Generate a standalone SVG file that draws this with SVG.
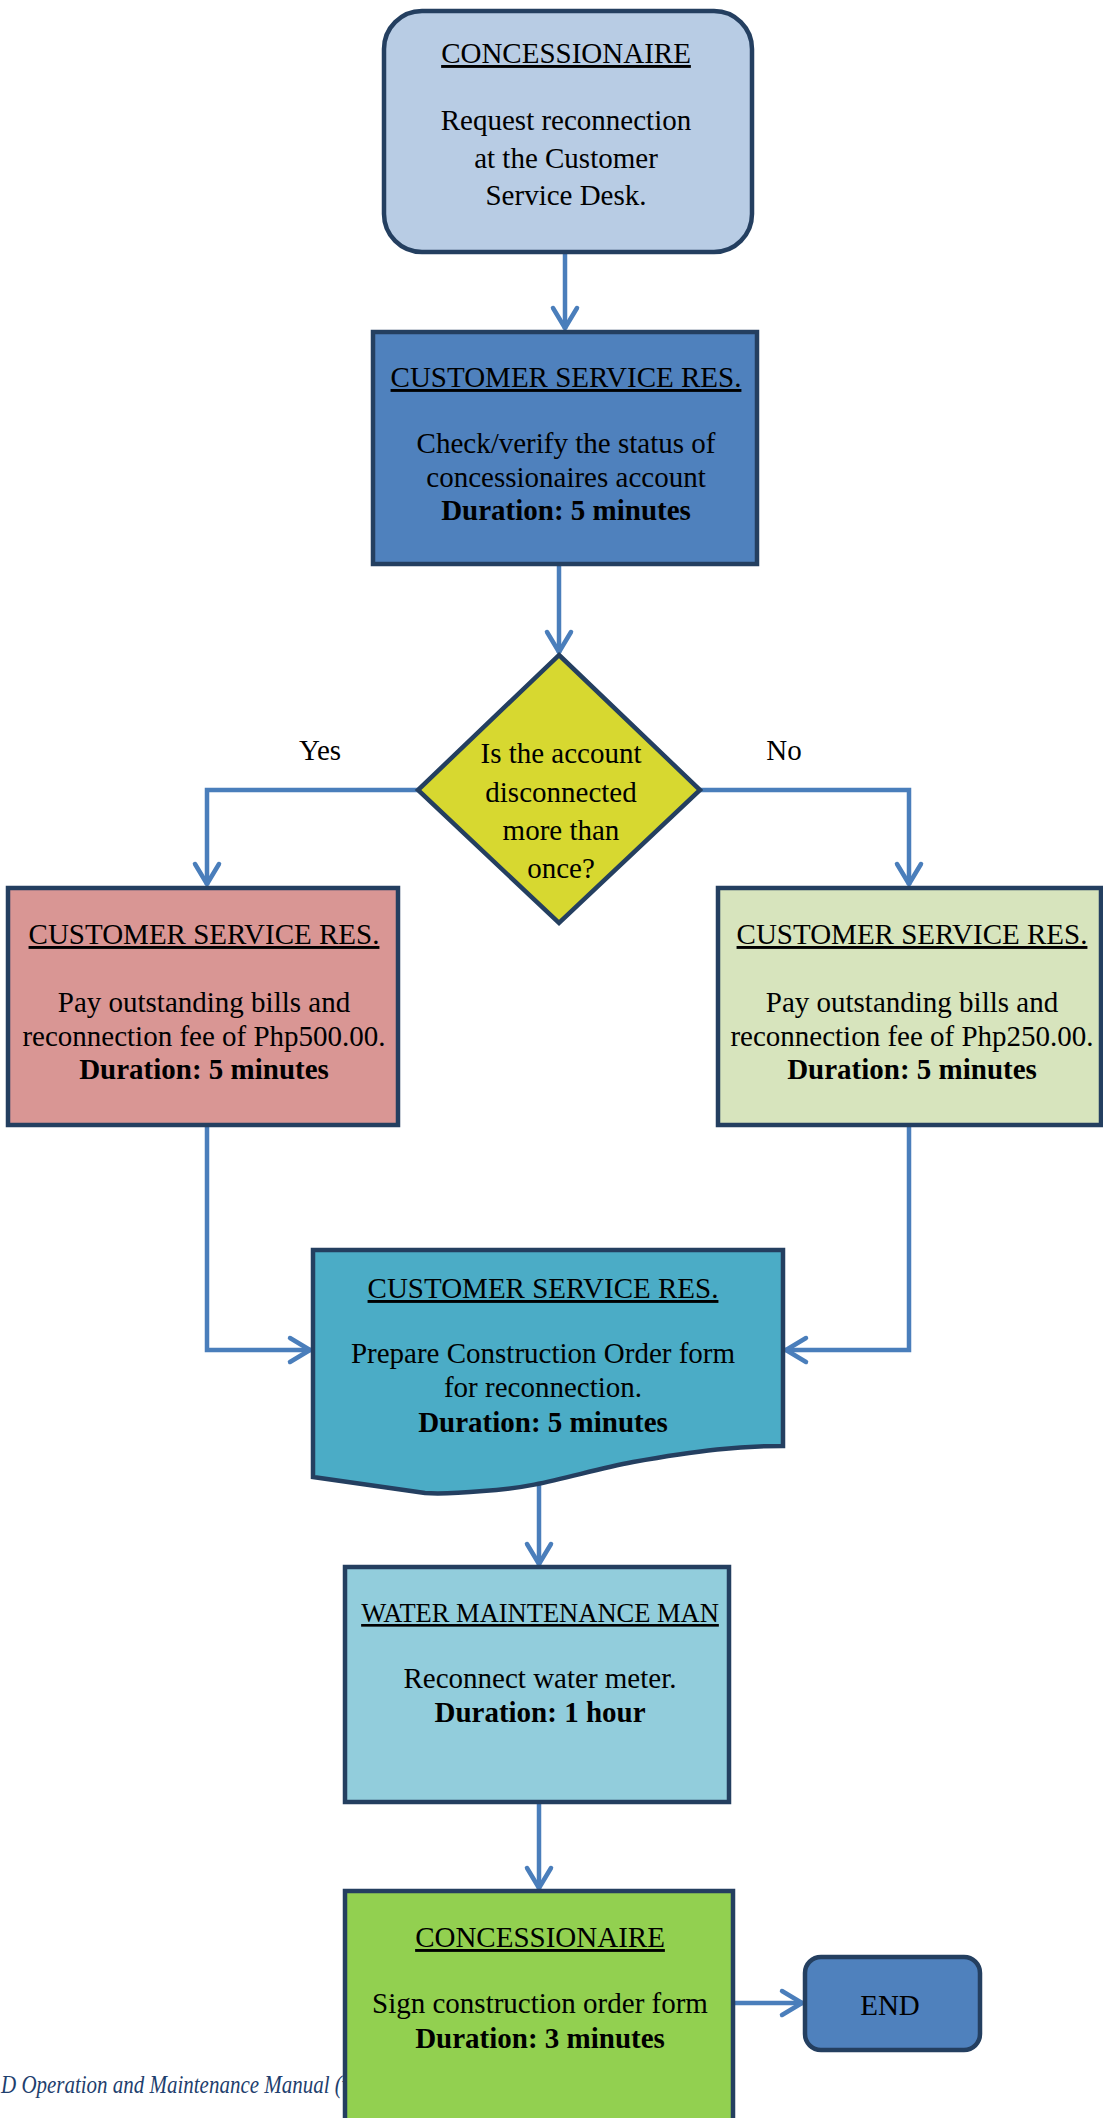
<svg xmlns="http://www.w3.org/2000/svg" width="1103" height="2118" viewBox="0 0 1103 2118">
<style>
.box{stroke:#243f60;stroke-width:4.5}
.t{font-family:"Liberation Serif","Times New Roman",serif;font-size:29px;fill:#000;text-anchor:middle}
.h{text-decoration:underline}
.b{font-weight:bold}
.c{fill:none;stroke:#4a7ebb;stroke-width:4.5;marker-end:url(#ah)}
.foot{font-family:"Liberation Serif","Times New Roman",serif;font-style:italic;font-size:26px;fill:#1f3f6e}
</style>
<defs>
<marker id="ah" markerUnits="userSpaceOnUse" viewBox="-24 -16 28 32" markerWidth="28" markerHeight="32" refX="1" refY="0" orient="auto">
<path d="M-20,-12 L0,0 L-20,12" fill="none" stroke="#4a7ebb" stroke-width="4.5" stroke-linecap="round" stroke-linejoin="round"/>
</marker>
</defs>
<rect width="1103" height="2118" fill="#fff"/>
<g id="connectors">
<path class="c" d="M565,254 V329"/>
<path class="c" d="M559,566 V653"/>
<path class="c" d="M418,790 H207 V885"/>
<path class="c" d="M700,790 H909 V885"/>
<path class="c" d="M207,1127 V1350 H311"/>
<path class="c" d="M909,1127 V1350 H785"/>
<path class="c" d="M539,1484 V1565"/>
<path class="c" d="M539,1804 V1889"/>
<path class="c" d="M735,2003 H803"/>
</g>
<g id="n1">
<rect class="box" x="384" y="11" width="368" height="241" rx="38" fill="#b8cce4"/>
<text class="t h" x="566" y="63">CONCESSIONAIRE</text>
<text class="t" x="566" y="130">Request reconnection</text>
<text class="t" x="566" y="168">at the Customer</text>
<text class="t" x="566" y="205">Service Desk.</text>
</g>
<g id="n2">
<rect class="box" x="373" y="332" width="384" height="232" fill="#4f81bd"/>
<text class="t h" x="566" y="387">CUSTOMER SERVICE RES.</text>
<text class="t" x="566" y="453">Check/verify the status of</text>
<text class="t" x="566" y="487">concessionaires account</text>
<text class="t b" x="566" y="520">Duration: 5 minutes</text>
</g>
<g id="n3">
<polygon class="box" points="559,655 700,790 559,923 418,790" fill="#d7d830"/>
<text class="t" x="561" y="763">Is the account</text>
<text class="t" x="561" y="802">disconnected</text>
<text class="t" x="561" y="840">more than</text>
<text class="t" x="561" y="878">once?</text>
</g>
<g id="lblYes"><text class="t" x="320" y="760">Yes</text></g>
<g id="lblNo"><text class="t" x="784" y="760">No</text></g>
<g id="n4">
<rect class="box" x="8" y="888" width="390" height="237" fill="#d99694"/>
<text class="t h" x="204" y="944">CUSTOMER SERVICE RES.</text>
<text class="t" x="204" y="1012">Pay outstanding bills and</text>
<text class="t" x="204" y="1046">reconnection fee of Php500.00.</text>
<text class="t b" x="204" y="1079">Duration: 5 minutes</text>
</g>
<g id="n5">
<rect class="box" x="718" y="888" width="383" height="237" fill="#d7e4bd"/>
<text class="t h" x="912" y="944">CUSTOMER SERVICE RES.</text>
<text class="t" x="912" y="1012">Pay outstanding bills and</text>
<text class="t" x="912" y="1046">reconnection fee of Php250.00.</text>
<text class="t b" x="912" y="1079">Duration: 5 minutes</text>
</g>
<g id="n6">
<path class="box" d="M313,1250 H783 V1446 C740,1446 700,1450 633,1462 C580,1472 540,1488 483,1491 C460,1493 440,1494 425,1493 L313,1477 Z" fill="#4bacc6"/>
<text class="t h" x="543" y="1298">CUSTOMER SERVICE RES.</text>
<text class="t" x="543" y="1363">Prepare Construction Order form</text>
<text class="t" x="543" y="1397">for reconnection.</text>
<text class="t b" x="543" y="1432">Duration: 5 minutes</text>
</g>
<g id="n7">
<rect class="box" x="345" y="1567" width="384" height="235" fill="#92cddc"/>
<text class="t h" x="540" y="1622" style="font-size:26.5px">WATER MAINTENANCE MAN</text>
<text class="t" x="540" y="1688">Reconnect water meter.</text>
<text class="t b" x="540" y="1722">Duration: 1 hour</text>
</g>
<g id="footer"><text class="foot" x="1" y="2093" textLength="350" lengthAdjust="spacingAndGlyphs">D Operation and Maintenance Manual (v</text></g>
<g id="n8">
<rect class="box" x="345" y="1891" width="388" height="240" fill="#92d050"/>
<text class="t h" x="540" y="1947">CONCESSIONAIRE</text>
<text class="t" x="540" y="2013">Sign construction order form</text>
<text class="t b" x="540" y="2048">Duration: 3 minutes</text>
</g>
<g id="n9">
<rect class="box" x="805" y="1957" width="175" height="93" rx="16" fill="#4f81bd"/>
<text class="t" x="890" y="2015">END</text>
</g>
</svg>
